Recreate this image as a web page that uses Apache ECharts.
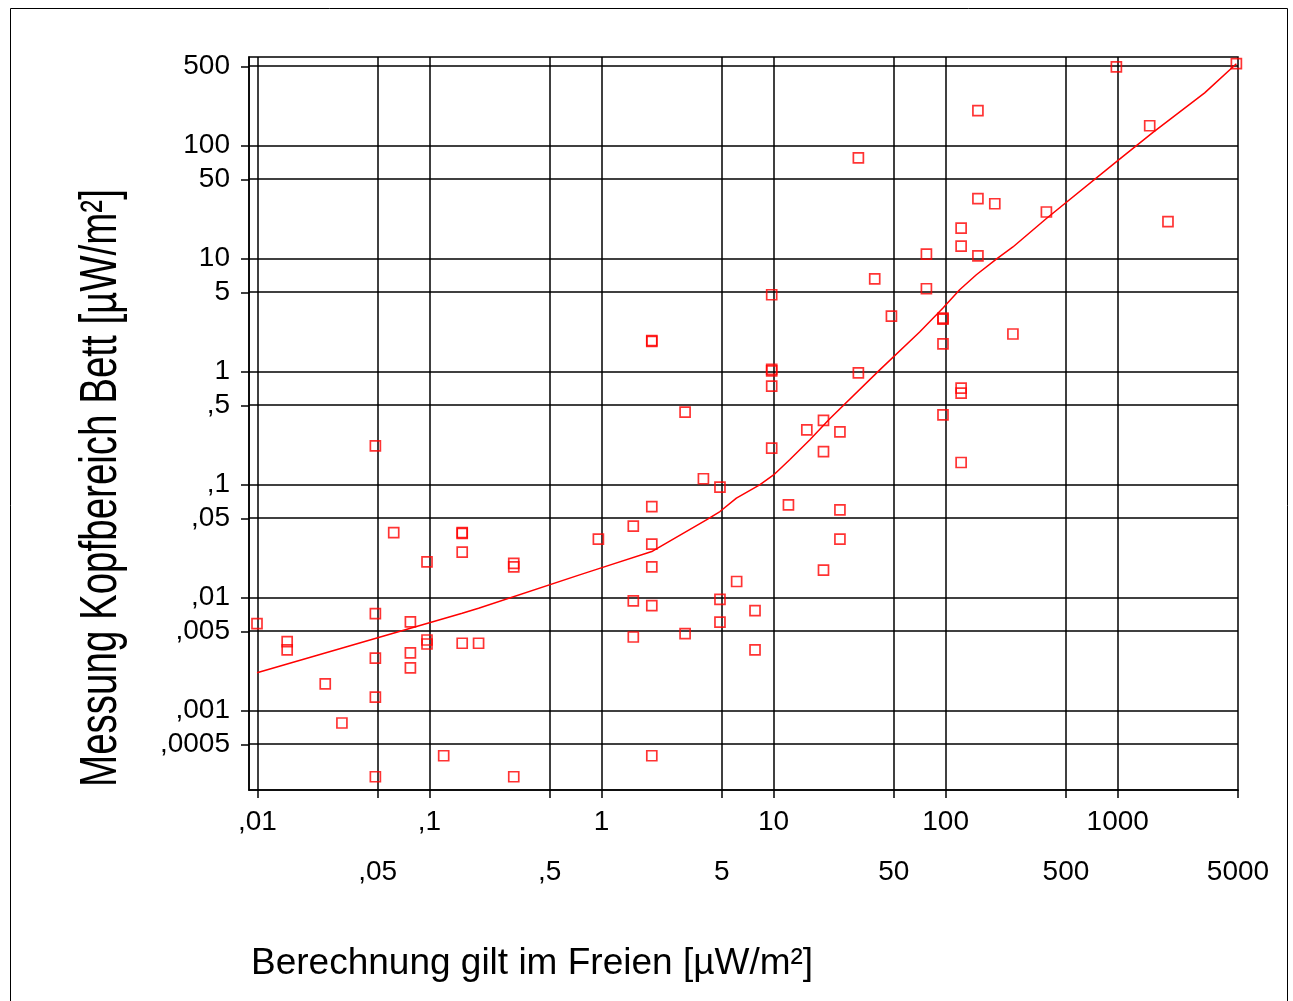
<!DOCTYPE html>
<html>
<head>
<meta charset="utf-8">
<title>Messung Kopfbereich Bett</title>
<script src="https://cdn.jsdelivr.net/npm/echarts@6.0.0/dist/echarts.min.js"></script>
<style>
  html, body { margin: 0; padding: 0; background: #fff; }
  #main { width: 1293px; height: 1001px; }
</style>
</head>
<body>
<div id="main"></div>
<script>
// Berechnung (x) gegen Messung (y), jeweils µW/m²
const calcValues = [
  31.1, 38.7, 9.75, 48.4, 1.96, 1.96, 9.75, 9.75, 31.1, 9.75, 3.06, 19.5,
  982, 4893, 154, 1534, 154, 193, 385, 1959, 123, 123, 154, 77.3, 77.3, 96.5, 96.5, 246, 96.5, 123, 123, 96.5, 123,
  15.6, 24.3, 9.75, 19.5, 3.91, 4.88, 1.96, 12.2, 24.3, 1.53, 0.959, 1.96, 24.3, 1.96, 19.5, 6.1, 1.53, 4.88, 1.96, 7.8, 4.88, 3.06, 1.53, 7.8, 1.96,
  0.0485, 0.062, 0.155, 0.155, 0.155, 0.0968, 0.309, 0.309, 0.00995, 0.0485, 0.0775, 0.0149, 0.0149, 0.0968, 0.0968, 0.155, 0.193, 0.0485, 0.0775, 0.0775, 0.0248, 0.0485, 0.031, 0.121, 0.0485, 0.309
];
const measValues = [
  77.3, 6.59, 4.76, 3.08, 1.87, 1.84, 1.04, 1.01, 0.97, 0.739, 0.435, 0.368,
  494, 528, 203, 149, 33.7, 30.4, 25.7, 21.1, 18.5, 12.8, 10.5, 10.9, 5.38, 2.9, 2.96, 2.14, 1.75, 0.71, 0.641, 0.412, 0.156,
  0.303, 0.291, 0.209, 0.195, 0.112, 0.0943, 0.0635, 0.0657, 0.0594, 0.0426, 0.0327, 0.0295, 0.0327, 0.0186, 0.0174, 0.0138, 0.00929, 0.0096, 0.00844, 0.00762, 0.00603, 0.00477, 0.00445, 0.00342, 0.000396,
  0.219, 0.0374, 0.0374, 0.0368, 0.0251, 0.0206, 0.02, 0.0186, 0.00584, 0.00717, 0.00605, 0.00405, 0.00342, 0.00419, 0.00386, 0.00392, 0.00392, 0.0029, 0.00322, 0.00237, 0.00171, 0.00131, 0.000772, 0.000396, 0.000258, 0.000258
];

// geglaettete Kurve
const fitX = [0.00995, 0.155, 0.193, 0.746, 1.006, 1.96, 2.12, 4.07, 4.88, 6.08, 8.3, 10, 12.4, 16.2, 21.2, 41.4, 70.6, 96.5, 120.6, 150.8, 197, 246, 385, 1000, 1603, 3201, 4893];
const fitY = [0.00215, 0.00722, 0.008, 0.0158, 0.0183, 0.0254, 0.0272, 0.0484, 0.0574, 0.0754, 0.0989, 0.121, 0.165, 0.247, 0.38, 1.03, 2.23, 3.63, 5.27, 7.15, 9.85, 12.6, 22.5, 73.1, 130, 291, 528];

// Achsen
const xTickValues = [0.01, 0.05, 0.1, 0.5, 1, 5, 10, 50, 100, 500, 1000, 5000];
const xRow1Values = [0.01, 0.1, 1, 10, 100, 1000];
const xRow1Labels = [',01', ',1', '1', '10', '100', '1000'];
const xRow2Values = [0.05, 0.5, 5, 50, 500, 5000];
const xRow2Labels = [',05', ',5', '5', '50', '500', '5000'];
const yTickValues = [500, 100, 50, 10, 5, 1, 0.5, 0.1, 0.05, 0.01, 0.005, 0.001, 0.0005];
const yTickLabels = ['500', '100', '50', '10', '5', '1', ',5', ',1', ',05', ',01', ',005', ',001', ',0005'];
const xRange = [0.00894, 5000];
const yRange = [0.000197, 605];

const lg = v => Math.log10(v);
const FONT = '"Liberation Sans", Arial, sans-serif';

function labeler(values, labels) {
  return v => {
    const i = values.findIndex(t => Math.abs(lg(t) - v) < 1e-4);
    return i < 0 ? '' : labels[i];
  };
}

const chart = echarts.init(document.getElementById('main'));

const gridLines = xTickValues.map(v => ({ xAxis: lg(v) }))
  .concat(yTickValues.map(v => ({ yAxis: lg(v) })));

const points = calcValues.map((x, i) => [lg(x), lg(measValues[i])]);
const curve = fitX.map((x, i) => [lg(x), lg(fitY[i])]);

const option = {
  animation: false,
  backgroundColor: '#fff',
  grid: {
    left: 249, top: 57, width: 989, height: 733,
    show: true, borderColor: '#000', borderWidth: 1.5, backgroundColor: 'transparent'
  },
  xAxis: [
    {
      type: 'value', position: 'bottom', min: lg(xRange[0]), max: lg(xRange[1]),
      axisLine: { show: true, onZero: false, lineStyle: { color: '#000', width: 1.5 } },
      axisTick: { show: true, customValues: xTickValues.map(lg), length: 8, lineStyle: { color: '#000', width: 1.5 } },
      splitLine: { show: false },
      axisLabel: {
        customValues: xRow1Values.map(lg), formatter: labeler(xRow1Values, xRow1Labels),
        margin: 18, fontSize: 28, color: '#000', fontFamily: FONT
      }
    },
    {
      type: 'value', position: 'bottom', min: lg(xRange[0]), max: lg(xRange[1]),
      axisLine: { show: false, onZero: false }, axisTick: { show: false }, splitLine: { show: false },
      axisLabel: {
        customValues: xRow2Values.map(lg), formatter: labeler(xRow2Values, xRow2Labels),
        margin: 68, fontSize: 28, color: '#000', fontFamily: FONT
      }
    }
  ],
  yAxis: {
    type: 'value', min: lg(yRange[0]), max: lg(yRange[1]),
    axisLine: { show: true, onZero: false, lineStyle: { color: '#000', width: 1.5 } },
    axisTick: { show: true, customValues: yTickValues.map(lg), length: 8, lineStyle: { color: '#000', width: 1.5 } },
    splitLine: { show: false },
    axisLabel: {
      customValues: yTickValues.map(lg), formatter: labeler(yTickValues, yTickLabels),
      margin: 19, fontSize: 28, color: '#000', fontFamily: FONT
    }
  },
  graphic: [
    {
      type: 'rect', silent: true, z: -1,
      shape: { x: 10.5, y: 8.5, width: 1277, height: 1010 },
      style: { fill: 'none', stroke: '#000', lineWidth: 1 }
    },
    {
      type: 'text', x: 251, y: 964,
      style: {
        text: 'Berechnung gilt im Freien [µW/m²]', fontSize: 37, fontFamily: FONT,
        fill: '#000', align: 'left', verticalAlign: 'middle'
      }
    },
    {
      type: 'text', x: 102, y: 488, rotation: Math.PI / 2, scaleY: 1.33,
      style: {
        text: 'Messung Kopfbereich Bett [µW/m²]', fontSize: 38.5, fontFamily: FONT,
        fill: '#000', align: 'center', verticalAlign: 'middle'
      }
    }
  ],
  series: [
    {
      type: 'line',
      data: curve,
      symbol: 'none',
      z: 2,
      lineStyle: { color: '#ff0000', width: 1.5 },
      emphasis: { disabled: true },
      markLine: {
        silent: true, symbol: 'none', z: 1, animation: false,
        label: { show: false },
        emphasis: { disabled: true },
        lineStyle: { color: '#000', width: 1.5, type: 'solid' },
        data: gridLines
      }
    },
    {
      type: 'scatter',
      data: points,
      symbol: 'rect',
      symbolSize: 10,
      z: 3,
      itemStyle: { color: 'rgba(255,255,255,0)', borderColor: '#ff0000', borderWidth: 1.7 },
      emphasis: { disabled: true }
    }
  ]
};

chart.setOption(option);
</script>
</body>
</html>
